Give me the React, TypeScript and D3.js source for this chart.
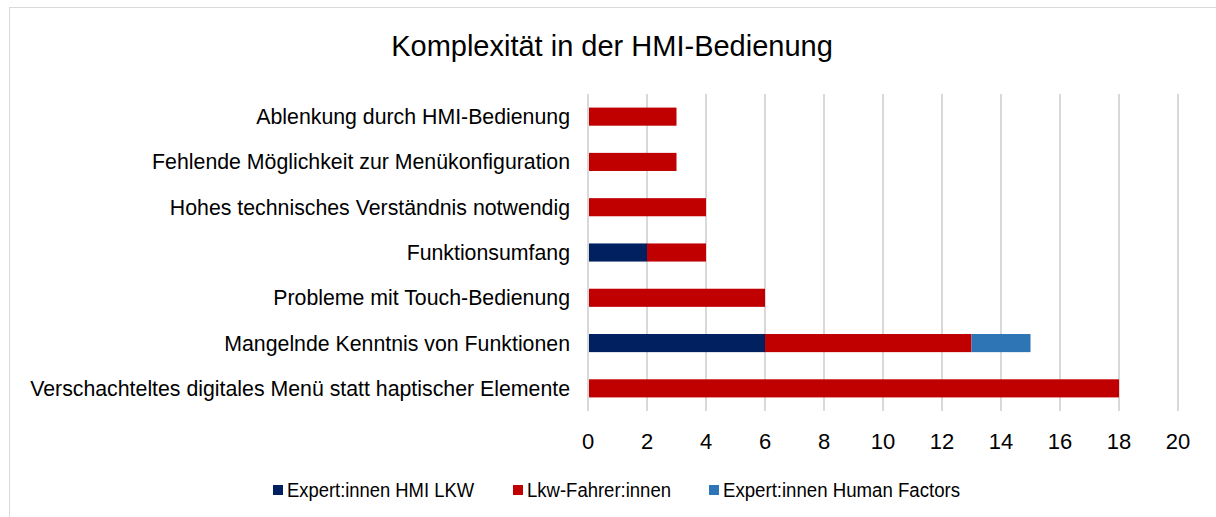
import React, { useRef, useEffect } from 'react';
import * as d3 from 'd3';

const categories = [
  'Ablenkung durch HMI-Bedienung',
  'Fehlende Möglichkeit zur Menükonfiguration',
  'Hohes technisches Verständnis notwendig',
  'Funktionsumfang',
  'Probleme mit Touch-Bedienung',
  'Mangelnde Kenntnis von Funktionen',
  'Verschachteltes digitales Menü statt haptischer Elemente',
];
const expertHmi = [0, 0, 0, 2, 0, 6, 0];
const lkwFahrer = [3, 3, 4, 2, 6, 7, 18];
const expertHf = [0, 0, 0, 0, 0, 2, 0];
const xTicks = [0, 2, 4, 6, 8, 10, 12, 14, 16, 18, 20];

const seriesNames = ['Expert:innen HMI LKW', 'Lkw-Fahrer:innen', 'Expert:innen Human Factors'];
const seriesColors = ['#002060', '#C00000', '#2E75B6'];

function App() {
  const svgRef = useRef<SVGSVGElement>(null);

  useEffect(() => {
    const width = 1216;
    const height = 517;
    const svg = d3.select(svgRef.current);
    svg.selectAll('*').remove();
    svg.attr('width', width).attr('height', height);

    const font = 'Arial, "Liberation Sans", sans-serif';

    // chart frame
    svg.append('rect')
      .attr('x', 9.5).attr('y', 7.5)
      .attr('width', 1220).attr('height', 520)
      .attr('fill', '#fff')
      .attr('stroke', '#d9d9d9');

    svg.append('text')
      .attr('x', 612).attr('y', 56)
      .attr('text-anchor', 'middle')
      .attr('font-family', font)
      .attr('font-size', '29px')
      .attr('fill', '#000')
      .text('Komplexität in der HMI-Bedienung');

    const margin = { top: 94, left: 588, right: 1178, bottom: 411 };

    const x = d3.scaleLinear().domain([0, 20]).range([margin.left, margin.right]);
    const y = d3.scaleBand().domain(categories).range([margin.top, margin.bottom]).paddingInner(0.6).paddingOuter(0.3);

    // Grid lines
    svg.append('g')
      .selectAll('line')
      .data(xTicks)
      .enter()
      .append('line')
      .attr('x1', d => x(d)).attr('x2', d => x(d))
      .attr('y1', margin.top).attr('y2', margin.bottom)
      .attr('stroke', '#d9d9d9')
      .attr('stroke-width', 2);

    // X tick labels
    svg.append('g')
      .selectAll('text')
      .data(xTicks)
      .enter()
      .append('text')
      .attr('x', d => x(d))
      .attr('y', 449)
      .attr('text-anchor', 'middle')
      .attr('font-family', font)
      .attr('font-size', '22px')
      .attr('fill', '#000')
      .text(d => d);

    // Category labels
    svg.append('g')
      .selectAll('text')
      .data(categories)
      .enter()
      .append('text')
      .attr('x', 570)
      .attr('y', d => (y(d) as number) + y.bandwidth() / 2)
      .attr('dy', '0.35em')
      .attr('text-anchor', 'end')
      .attr('font-family', font)
      .attr('font-size', '21.3px')
      .attr('fill', '#000')
      .text(d => d);

    // Stacked bars
    const table = categories.map((c, i) => ({ cat: c, a: expertHmi[i], b: lkwFahrer[i], c: expertHf[i] }));
    const stack = d3.stack<any>().keys(['a', 'b', 'c'])(table);

    stack.forEach((layer, si) => {
      svg.append('g')
        .selectAll('rect')
        .data(layer.filter(d => d[1] - d[0] > 0))
        .enter()
        .append('rect')
        .attr('x', d => x(d[0]) + (d[0] === 0 ? 1 : 0))
        .attr('width', d => x(d[1]) - x(d[0]) - (d[0] === 0 ? 1 : 0))
        .attr('y', d => y(d.data.cat) as number)
        .attr('height', y.bandwidth())
        .attr('fill', seriesColors[si]);
    });

    // Legend (text is a bit narrow in the original, fit it to the measured width)
    const legendX = [273, 513, 709];
    const legendW = [187, 144, 237];
    const legend = svg.append('g');
    seriesNames.forEach((name, i) => {
      legend.append('rect')
        .attr('x', legendX[i]).attr('y', 485)
        .attr('width', 10).attr('height', 10)
        .attr('fill', seriesColors[i]);
      legend.append('text')
        .attr('x', legendX[i] + 14).attr('y', 497)
        .attr('font-family', font)
        .attr('font-size', '19.5px')
        .attr('textLength', legendW[i])
        .attr('lengthAdjust', 'spacingAndGlyphs')
        .attr('fill', '#000')
        .text(name);
    });
  }, []);

  return (
    <div style={{ position: 'absolute', left: 0, top: 0 }}>
      <svg ref={svgRef} style={{ display: 'block' }}></svg>
    </div>
  );
}

export default App;
